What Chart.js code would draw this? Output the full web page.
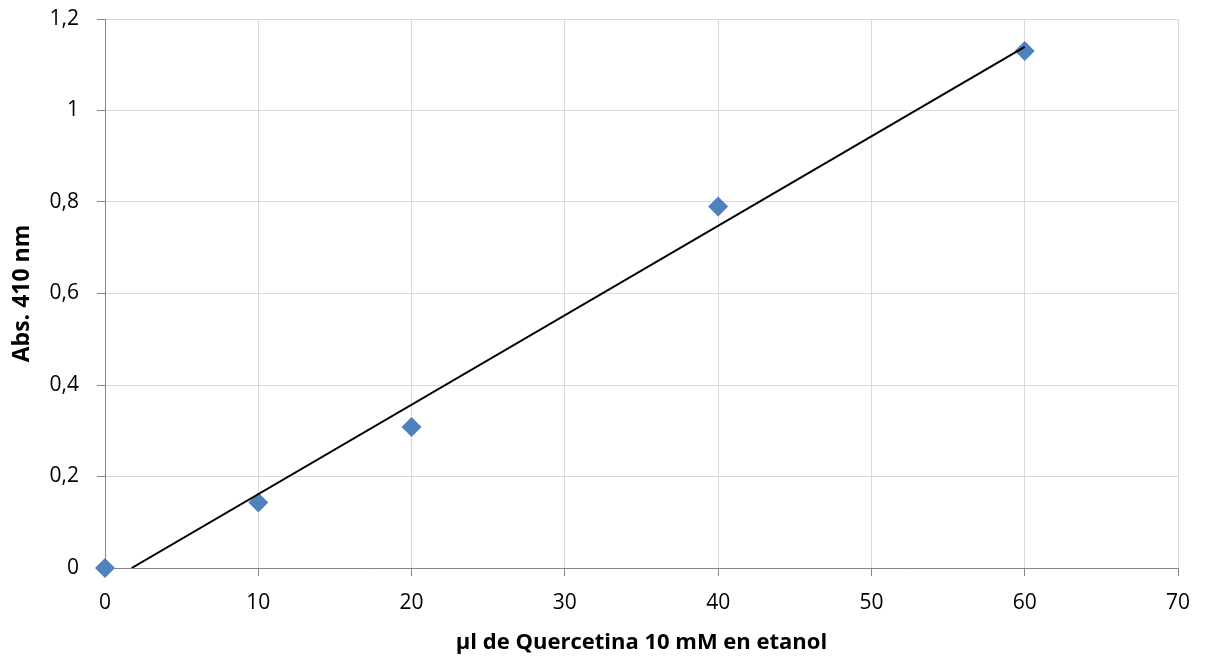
<!DOCTYPE html>
<html>
<head>
<meta charset="utf-8">
<script src="https://cdn.jsdelivr.net/npm/chart.js@4/dist/chart.umd.min.js"></script>
<style>
  html, body { margin: 0; padding: 0; background: #fff; }
  #wrap { width: 1208px; height: 664px; }
</style>
</head>
<body>
<div id="wrap"><canvas id="myChart" width="1208" height="664"></canvas></div>
<script>
// measured points
var volumes = [0, 10, 20, 40, 60];
var absorb = [0, 0.143, 0.308, 0.79, 1.13];
// trend line ends
var trendX = [1.74, 60];
var trendY = [0, 1.139];

var xTicks = [0, 10, 20, 30, 40, 50, 60, 70];
var yTicks = [0, 0.2, 0.4, 0.6, 0.8, 1, 1.2];

var axisGray = "#868686";
var gridGray = "#d9d9d9";
var font = "'Open Sans', 'Liberation Sans', sans-serif";

var ctx = document.getElementById("myChart");
let myChart = new Chart(ctx, {
  type: 'scatter',
  data: {
    datasets: [{
      label: "Abs",
      data: volumes.map(function (v, i) { return { x: v, y: absorb[i] }; }),
      pointStyle: 'rectRot',
      pointRadius: 10,
      pointHoverRadius: 10,
      backgroundColor: "#4f81bd",
      borderColor: "#4f81bd",
      borderWidth: 0,
      clip: false,
      order: 2
    },
    {
      label: "Lineal",
      data: trendX.map(function (v, i) { return { x: v, y: trendY[i] }; }),
      showLine: true,
      borderColor: "#000000",
      borderWidth: 2,
      pointRadius: 0,
      fill: false,
      order: 1
    }]
  },
  options: {
    responsive: false,
    animation: false,
    layout: { padding: { left: 0, right: 30, top: 19, bottom: 0 } },
    plugins: {
      legend: { display: false },
      tooltip: { enabled: false }
    },
    scales: {
      x: {
        type: 'linear',
        min: 0,
        max: 70,
        afterBuildTicks: function (scale) {
          scale.ticks = xTicks.map(function (v) { return { value: v }; });
        },
        afterFit: function (scale) {
          scale.height = 96;
          scale.paddingLeft = 0;
          scale.paddingRight = 0;
        },
        grid: { color: gridGray, tickColor: axisGray, tickLength: 8, lineWidth: 1 },
        border: { color: axisGray, width: 1 },
        ticks: { color: "#000", padding: 14, font: { family: font, size: 21 }, maxRotation: 0 },
        title: {
          display: true,
          text: "µl de Quercetina 10 mM en etanol",
          color: "#000",
          font: { family: font, size: 22, weight: 'bold' },
          padding: { top: 4, bottom: 8 }
        }
      },
      y: {
        type: 'linear',
        min: 0,
        max: 1.2,
        afterBuildTicks: function (scale) {
          scale.ticks = yTicks.map(function (v) { return { value: v }; });
        },
        afterFit: function (scale) {
          scale.width = 105;
          scale.paddingTop = 0;
          scale.paddingBottom = 0;
        },
        grid: { color: gridGray, tickColor: axisGray, tickLength: 8, lineWidth: 1 },
        border: { color: axisGray, width: 1 },
        ticks: {
          color: "#000",
          padding: 18,
          font: { family: font, size: 21 },
          callback: function (v) { return String(Math.round(v * 10) / 10).replace('.', ','); }
        },
        title: {
          display: true,
          text: "Abs. 410 nm",
          color: "#000",
          font: { family: font, size: 23, weight: 'bold' },
          padding: { top: 9, bottom: 4 }
        }
      }
    }
  }
});
</script>
</body>
</html>
